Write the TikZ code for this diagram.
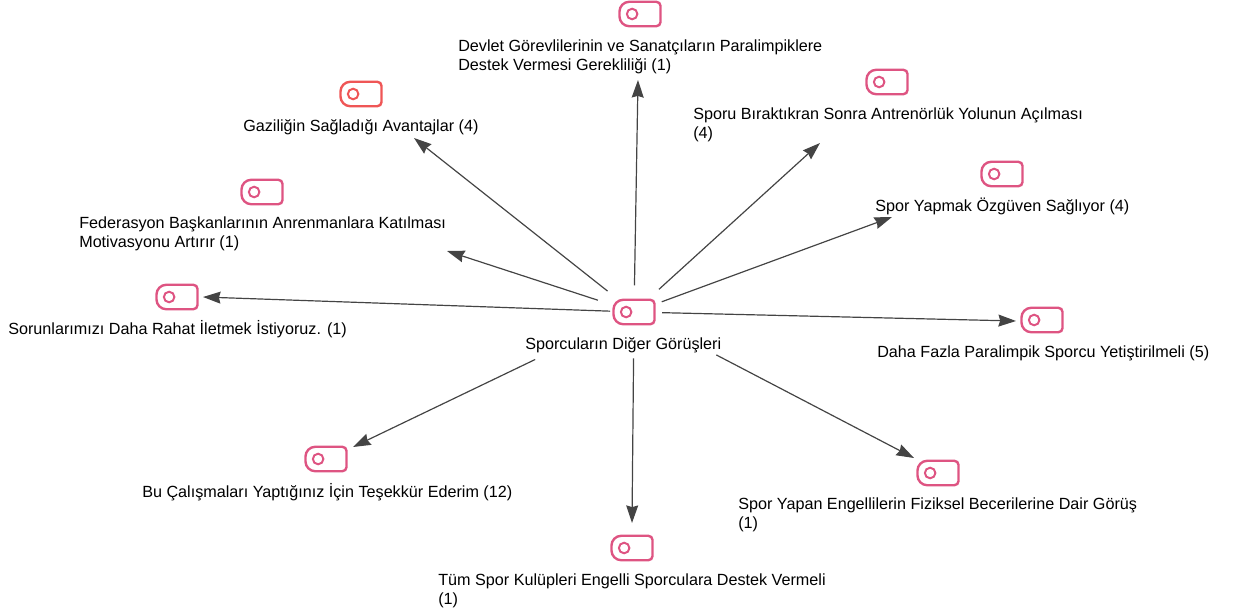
\documentclass[tikz,border=0pt]{standalone}
\usepackage{fontspec}
\setmainfont{Liberation Sans}
\usepackage{xcolor}
\usetikzlibrary{arrows.meta}
\definecolor{tagpink}{HTML}{DE5482}
\definecolor{tagred}{HTML}{EF5656}
\definecolor{spokegrey}{HTML}{444444}
\tikzset{
  tagnode/.style={minimum width=28.8pt,minimum height=17pt,inner sep=0pt},
  tagline/.style={line width=1.7pt},
  tagdot/.style={circle,draw=#1,line width=1.4pt,minimum size=7.5pt,inner sep=0pt},
  spoke/.style={draw=spokegrey,line width=0.85pt,shorten <=#1,-{Stealth[length=12.5pt,width=8.5pt,inset=1.2pt]}},
  lbl/.style={anchor=west,inner sep=0pt,align=left,font=\fontsize{11.5pt}{13.4pt}\selectfont,text=black}
}
% tag icon: name, position, colour
\newcommand{\tagicon}[3]{
  \node [tagnode] (#1) at (#2) {};
  \draw [tagline,draw=#3] ([xshift=7pt]#1.north west) -- ([xshift=-3pt]#1.north east) arc [start angle=90,end angle=0,radius=3pt] -- ([yshift=3pt]#1.south east) arc [start angle=0,end angle=-90,radius=3pt] -- ([xshift=7pt]#1.south west) arc [start angle=270,end angle=180,radius=7pt] -- ([yshift=-7pt]#1.north west) arc [start angle=180,end angle=90,radius=7pt] -- cycle;
  \node [tagdot=#3] (#1dot) at ([xshift=9pt]#1.west) {};
}
\begin{document}
\begin{tikzpicture}[x=0.025cm,y=-0.025cm]
        \useasboundingbox (0,0) rectangle (1240,611);

        %Tag icons
        \tagicon{hub}{634,312}{tagpink}
        \tagicon{devlet}{640,14}{tagpink}
        \tagicon{sporu}{887,82}{tagpink}
        \tagicon{gazi}{361,94}{tagred}
        \tagicon{federasyon}{262,192}{tagpink}
        \tagicon{ozguven}{1002,174}{tagpink}
        \tagicon{sorun}{177,297}{tagpink}
        \tagicon{fazla}{1042,320}{tagpink}
        \tagicon{tesekkur}{326,459}{tagpink}
        \tagicon{beceri}{938,473}{tagpink}
        \tagicon{kulup}{632,548}{tagpink}

        %Labels
        \node [lbl] (hublbl) at (525,345) {Sporcuların Diğer Görüşleri};
        \node [lbl] (devletlbl) at (458,57) {Devlet Görevlilerinin ve Sanatçıların Paralimpiklere\\Destek Vermesi Gerekliliği (1)};
        \node [lbl] (sporulbl) at (693,124.5) {Sporu Bıraktıkran Sonra Antrenörlük Yolunun Açılması\\(4)};
        \node [lbl] (gazilbl) at (243,127) {Gaziliğin Sağladığı Avantajlar (4)};
        \node [lbl] (federasyonlbl) at (79,233.5) {Federasyon Başkanlarının Anrenmanlara Katılması\\Motivasyonu Artırır (1)};
        \node [lbl] (ozguvenlbl) at (875,206) {Spor Yapmak Özgüven Sağlıyor (4)};
        \node [lbl] (sorunlbl) at (8,329) {Sorunlarımızı Daha Rahat İletmek İstiyoruz. (1)};
        \node [lbl] (fazlalbl) at (877,353) {Daha Fazla Paralimpik Sporcu Yetiştirilmeli (5)};
        \node [lbl] (tesekkurlbl) at (142,492) {Bu Çalışmaları Yaptığınız İçin Teşekkür Ederim (12)};
        \node [lbl] (becerilbl) at (738,515) {Spor Yapan Engellilerin Fiziksel Becerilerine Dair Görüş\\(1)};
        \node [lbl] (kuluplbl) at (438,590.5) {Tüm Spor Kulüpleri Engelli Sporculara Destek Vermeli\\(1)};

        %Arrow ends
        \coordinate (enddevlet) at (638,80);
        \coordinate (endsporu) at (820,143);
        \coordinate (endgazi) at (414,138);
        \coordinate (endfederasyon) at (447,251);
        \coordinate (endozguven) at (892,217);
        \coordinate (endsorun) at (203,297);
        \coordinate (endfazla) at (1016,321);
        \coordinate (endtesekkur) at (353,447);
        \coordinate (endbeceri) at (914,458);
        \coordinate (endkulup) at (632,523);

        %Arrows
        \draw [spoke=19pt] (hub.center) -- (enddevlet);
        \draw [spoke=24pt] (hub.center) -- (endsporu);
        \draw [spoke=24pt] (hub.center) -- (endgazi);
        \draw [spoke=27pt] (hub.center) -- (endfederasyon);
        \draw [spoke=21pt] (hub.center) -- (endozguven);
        \draw [spoke=17pt] (hub.center) -- (endsorun);
        \draw [spoke=20pt] (hub.center) -- (endfazla);
        \draw [spoke=78pt] (hub.center) -- (endtesekkur);
        \draw [spoke=66pt] (hub.center) -- (endbeceri);
        \draw [spoke=33pt] (hub.center) -- (endkulup);
\end{tikzpicture}
\end{document}
